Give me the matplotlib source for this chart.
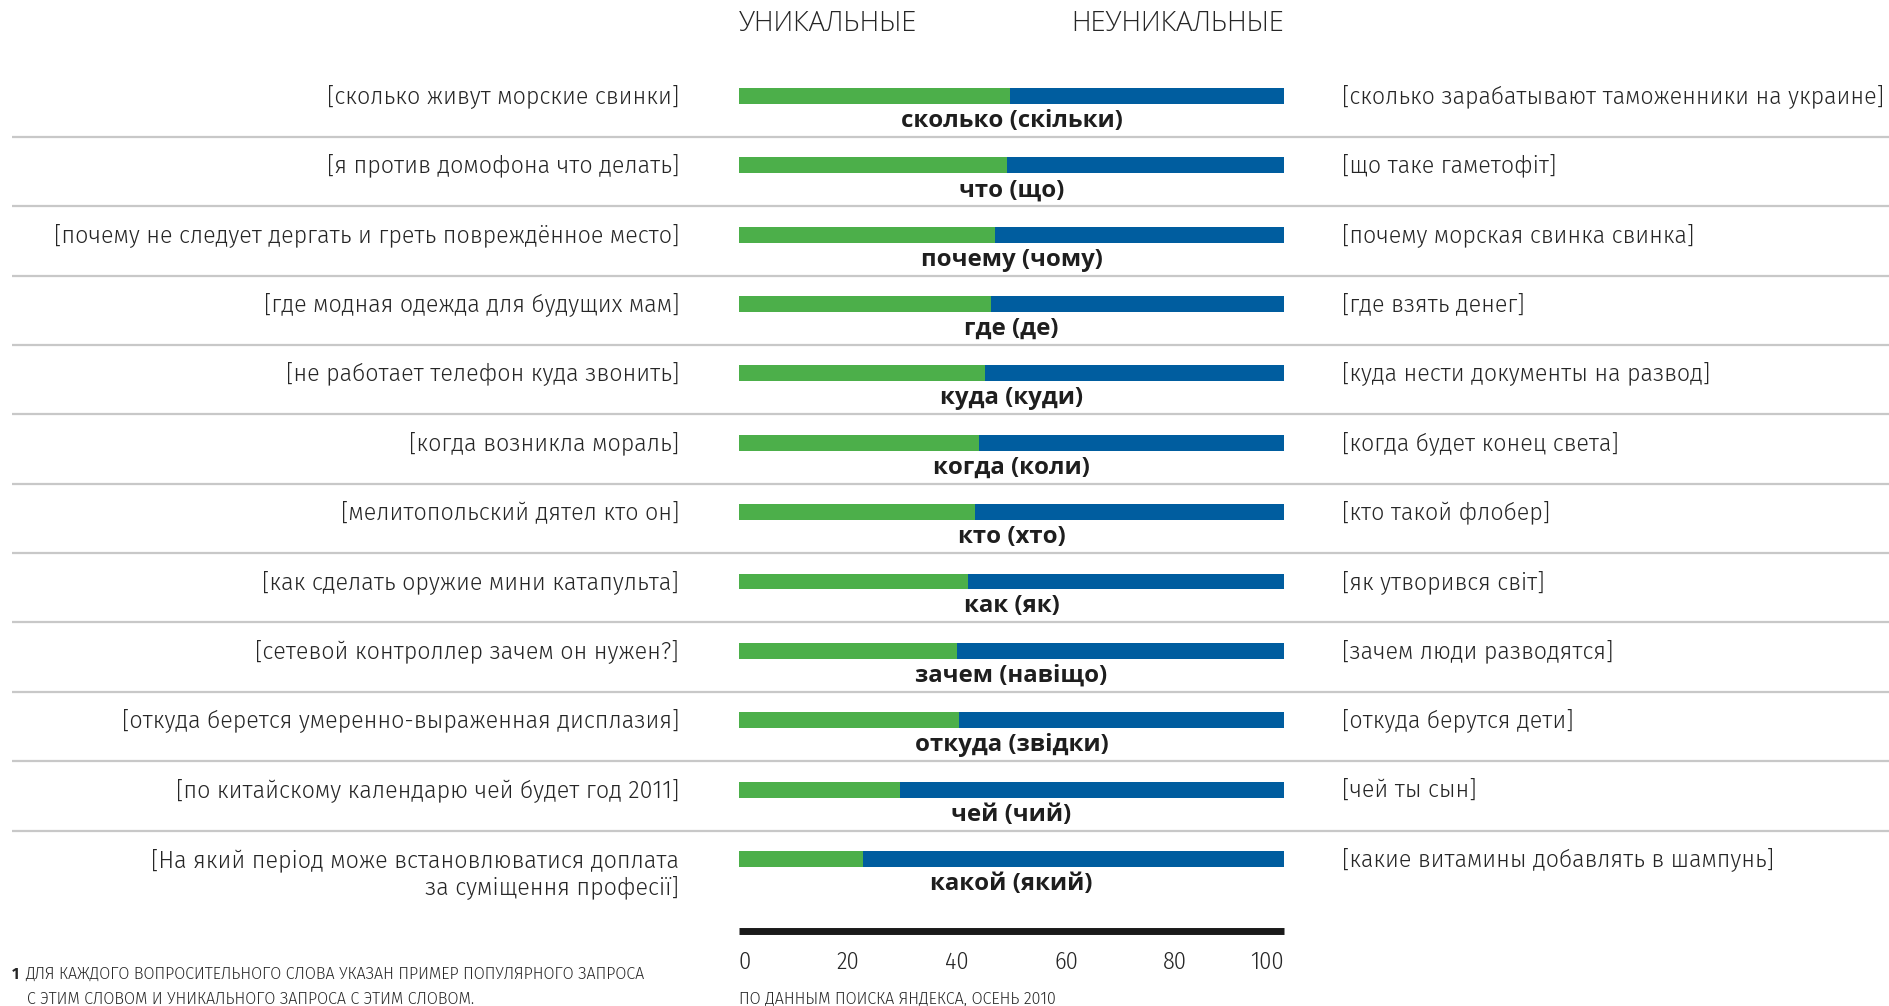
import matplotlib
matplotlib.use("Agg")
import matplotlib.pyplot as plt
import matplotlib.transforms as mtransforms

# share of unique queries, % (rest is non-unique)
words = ["сколько (скільки)", "что (що)", "почему (чому)", "где (де)", "куда (куди)",
         "когда (коли)", "кто (хто)", "как (як)", "зачем (навіщо)", "откуда (звідки)",
         "чей (чий)", "какой (який)"]
unique = [49.7, 49.2, 47.0, 46.2, 45.1, 44.0, 43.3, 42.0, 40.0, 40.4, 29.5, 22.8]
unique_examples = ["[сколько живут морские свинки]", "[я против домофона что делать]",
                   "[почему не следует дергать и греть повреждённое место]",
                   "[где модная одежда для будущих мам]", "[не работает телефон куда звонить]",
                   "[когда возникла мораль]", "[мелитопольский дятел кто он]",
                   "[как сделать оружие мини катапульта]", "[сетевой контроллер зачем он нужен?]",
                   "[откуда берется умеренно-выраженная дисплазия]",
                   "[по китайскому календарю чей будет год 2011]",
                   "[На який період може встановлюватися доплата\nза суміщення професії]"]
popular_examples = ["[сколько зарабатывают таможенники на украине]", "[що таке гаметофіт]",
                    "[почему морская свинка свинка]", "[где взять денег]",
                    "[куда нести документы на развод]", "[когда будет конец света]",
                    "[кто такой флобер]", "[як утворився світ]", "[зачем люди разводятся]",
                    "[откуда берутся дети]", "[чей ты сын]", "[какие витамины добавлять в шампунь]"]
ticks = [0, 20, 40, 60, 80, 100]

GREEN = "#4caf4a"
BLUE = "#005d9f"
TXT = "#262626"
COND = ["Fira Sans Condensed", "Open Sans", "DejaVu Sans"]
LIGHT = ["Fira Sans", "Open Sans", "DejaVu Sans"]
BOLD = ["Open Sans", "DejaVu Sans"]

W, H = 1890, 1006
fig = plt.figure(figsize=(W / 100, H / 100), dpi=100)
# axes spans bar width horizontally, whole height vertically
ax = fig.add_axes([739 / W, 0, 545 / W, 1])
step = 69.36
top = -96 / step
ax.set_ylim(top + H / step, top)
ax.set_xlim(0, 100)

n = len(words)
rows = list(range(n))
nonunique = [100 - u for u in unique]
ax.barh(rows, unique, height=0.23, color=GREEN, linewidth=0)
ax.barh(rows, nonunique, left=unique, height=0.23, color=BLUE, linewidth=0)

figx = mtransforms.blended_transform_factory(fig.transFigure, ax.transData)

for i in rows:
    ax.text(50, i + 0.36, words[i], ha="center", va="center", fontsize=17.3,
            fontweight="bold", color="#1e1e1e", family=BOLD)
    if "\n" in unique_examples[i]:
        ax.text(679 / W, i + 0.21, unique_examples[i], transform=figx, ha="right", va="center",
                multialignment="right", linespacing=1.2, fontsize=16.8, fontweight=300,
                color=TXT, family=LIGHT)
    else:
        ax.text(679 / W, i, unique_examples[i], transform=figx, ha="right", va="center",
                fontsize=16.8, fontweight=300, color=TXT, family=LIGHT)
    ax.text(1342 / W, i, popular_examples[i], transform=figx, ha="left", va="center",
            fontsize=16.7, fontweight=300, color=TXT, family=LIGHT)
    if i < n - 1:
        ax.plot([12 / W, 1], [i + 0.59, i + 0.59], transform=figx, color="#c8c8c8",
                lw=1.6, clip_on=False, solid_capstyle="butt")

# headers
ax.text(0, -1.04, "УНИКАЛЬНЫЕ", ha="left", va="center", fontsize=19.5, fontweight=300,
        color=TXT, family=["Open Sans", "DejaVu Sans"])
ax.text(100, -1.04, "НЕУНИКАЛЬНЫЕ", ha="right", va="center", fontsize=19.5, fontweight=300,
        color=TXT, family=["Open Sans", "DejaVu Sans"])

# axis
for s in ["top", "left", "right"]:
    ax.spines[s].set_visible(False)
ax.spines["bottom"].set_position(("data", 12.04))
ax.spines["bottom"].set_bounds(0, 100)
ax.spines["bottom"].set_linewidth(5)
ax.spines["bottom"].set_color("#1a1a1a")
ax.spines["bottom"].set_capstyle("butt")
ax.set_yticks([])
ax.set_xticks(ticks)
ax.set_xticklabels([str(t) for t in ticks], fontsize=17.5, fontweight=300, color=TXT,
                   family=COND)
ax.tick_params(axis="x", length=0, pad=14)
labs = ax.get_xticklabels()
labs[0].set_ha("left")
labs[-1].set_ha("right")
ax.patch.set_alpha(0)

# notes
fig.text(12 / W, 1 - 974 / H, "1", ha="left", va="center", fontsize=11, fontweight="bold",
         color=TXT, family=LIGHT)
fig.text(25 / W, 1 - 974 / H, "ДЛЯ КАЖДОГО ВОПРОСИТЕЛЬНОГО СЛОВА УКАЗАН ПРИМЕР ПОПУЛЯРНОГО ЗАПРОСА",
         ha="left", va="center", fontsize=11.6, fontweight=300, color=TXT, family=LIGHT)
fig.text(27 / W, 1 - 999 / H, "С ЭТИМ СЛОВОМ И УНИКАЛЬНОГО ЗАПРОСА С ЭТИМ СЛОВОМ.",
         ha="left", va="center", fontsize=11.6, fontweight=300, color=TXT, family=LIGHT)
fig.text(739 / W, 1 - 999 / H, "ПО ДАННЫМ ПОИСКА ЯНДЕКСА, ОСЕНЬ 2010",
         ha="left", va="center", fontsize=11.6, fontweight=300, color=TXT, family=LIGHT)

fig.savefig("out.png", dpi=100, facecolor="white")
